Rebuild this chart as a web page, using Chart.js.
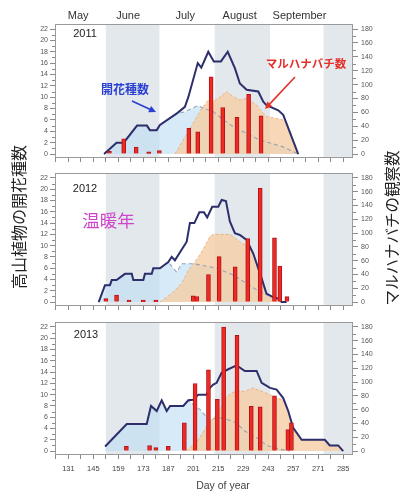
<!DOCTYPE html>
<html>
<head>
<meta charset="utf-8">
<script src="https://cdn.jsdelivr.net/npm/chart.js@4.4.1/dist/chart.umd.min.js"></script>
<style>
  html, body { margin: 0; padding: 0; background: #ffffff; }
  #wrap { position: relative; width: 400px; height: 492px; overflow: hidden; }
  #wrap canvas { position: absolute; left: 0; top: 0; }
</style>
</head>
<body>
<div id="wrap">
  <canvas id="p2011" width="400" height="492"></canvas>
  <canvas id="p2012" width="400" height="492"></canvas>
  <canvas id="p2013" width="400" height="492"></canvas>
</div>
<script>
// ---- axis labels ----
const dayTicks = [124, 131, 138, 145, 152, 159, 166, 173, 180, 187, 194, 201, 208, 215, 222, 229, 236, 243, 250, 257, 264, 271, 278, 285];
const monthNames = ['May', 'June', 'July', 'August', 'September'];
const monthLabelDays = [136.5, 164.5, 196.5, 227, 260.5];
const monthBands = [[152, 182], [213, 244], [274, 300]];
const speciesTicks = [0, 2, 4, 6, 8, 10, 12, 14, 16, 18, 20, 22];
const beeTicks = [0, 20, 40, 60, 80, 100, 120, 140, 160, 180];

// ---- 2011 ----
const totalDays2011 = [151, 158, 162, 169.5, 175, 176.7, 180.5, 182.3, 192, 196.3, 198.2, 203.5, 205.5, 209.4, 212.5, 216.5, 220.3, 224.3, 227.1, 230.9, 237.4, 240.2, 242, 248.6, 251.4, 259.8];
const totalCounts2011 = [0, 2, 2, 5, 5, 4.2, 4.2, 5.1, 7.2, 8.3, 10, 16, 15.2, 18, 16.3, 16.3, 18, 15.1, 12.4, 11.3, 11, 9.2, 8.6, 7.7, 6.9, 0];
const earlyDays2011 = [151, 158, 162, 169.5, 175, 176.7, 180.5, 182.3, 192, 196, 203.5, 207, 212, 218, 223.4, 231, 238, 251, 260];
const earlyCounts2011 = [0, 2, 2, 5, 5, 4.2, 4.2, 5.1, 7.2, 7.4, 8.5, 8, 7.5, 6, 4.8, 3.6, 2.5, 1.3, 0];
const lateDays2011 = [190.7, 200, 205, 209.4, 212, 216, 219.6, 223.4, 227, 231, 236.5, 239.3, 242, 251.4, 253, 259.8];
const lateCounts2011 = [0, 4.9, 7.7, 9.5, 9.2, 10, 11, 10.1, 9.5, 9.8, 8.6, 7.5, 6.6, 6, 5.6, 0];
const beeDays2011 = [154, 162, 169, 176, 182, 198.5, 203.5, 211, 217.5, 225.5, 232, 239];
const beeCounts2011 = [4, 22, 10, 3, 5, 37, 32, 111, 67, 53, 86, 55];

// ---- 2012 ----
const totalDays2012 = [148, 151.5, 154.3, 155.3, 158, 162.7, 166.5, 167.4, 173, 173.9, 177.7, 178.6, 182.3, 187, 188.9, 190.7, 197.3, 199.1, 201.6, 204.4, 207, 208.8, 211.6, 215, 216.9, 219.3, 221.5, 224.3, 227.1, 230.9, 234.6, 239.3, 242, 244.9, 248.6, 250.5, 253.3];
const totalCounts2012 = [0, 3, 3, 3.9, 3.9, 5, 5, 3.9, 3.9, 5, 5, 6, 6, 7.1, 8, 7.4, 10.7, 14, 14, 15.9, 15.9, 15, 16.9, 16.9, 18.1, 17.9, 14.3, 12.2, 11.9, 11, 8.6, 4.2, 1.5, 1, 0.6, 0, 0];
const earlyDays2012 = [148, 151.5, 154.3, 155.3, 158, 162.7, 166.5, 167.4, 173, 173.9, 177.7, 178.6, 182.3, 187, 191.7, 194.5, 201, 206, 214, 223.4, 238.3, 249.5, 251];
const earlyCounts2012 = [0, 3, 3, 3.9, 3.9, 5, 5, 3.9, 3.9, 5, 5, 6, 6, 7.1, 5.3, 6.8, 6.8, 6.5, 6, 4.8, 1.8, 0.3, 0];
const lateDays2012 = [182.3, 188.9, 194.5, 198.2, 201.9, 205.7, 210.3, 212.2, 221.5, 223.4, 227, 231.8, 234.6, 239.3, 242, 244.9, 248.6, 250.5];
const lateCounts2012 = [0, 1.5, 3.3, 5.6, 7.1, 8.9, 11.6, 12, 12, 11.6, 10.7, 9.8, 8.6, 4.2, 1.5, 1, 0.6, 0];
const beeDays2012 = [152, 158, 165, 173, 180, 201, 203, 209.5, 215.5, 224.5, 231.5, 238.5, 246.5, 249.5, 253.5];
const beeCounts2012 = [5, 10, 3, 3, 3, 9, 8, 40, 66, 51, 92, 165, 93, 52, 8];

// ---- 2013 ----
const totalDays2013 = [151.6, 163.7, 174.9, 177.3, 180.5, 183.3, 186.1, 188, 195.4, 198.2, 201, 203.8, 208.5, 210.3, 212.2, 214.1, 216.9, 220.6, 225.3, 229.9, 236.5, 239.3, 244, 247.7, 251.4, 254.2, 257, 261.7, 274.7, 277.5, 282.2, 285];
const totalCounts2013 = [0.8, 4.8, 4.8, 8, 7.1, 9, 7.1, 8, 8, 9, 9.1, 10, 10, 11.2, 11.8, 12.1, 13.9, 14.5, 15.2, 14.2, 14.2, 12.1, 11.2, 10.9, 9.4, 7.1, 4.1, 2, 2, 1, 1, 0];
const earlyDays2013 = [151.6, 163.7, 174.9, 177.3, 180.5, 183.3, 186.1, 188, 195.4, 198.2, 201, 205, 210, 215, 220, 225, 230, 236, 242, 250, 255];
const earlyCounts2013 = [0.8, 4.8, 4.8, 8, 7.1, 9, 7.1, 8, 8, 9, 8.2, 7.3, 5.5, 6, 5.6, 5, 3.5, 2.5, 1, 0.3, 0];
const lateDays2013 = [197, 203, 208.5, 216, 219, 222.5, 226, 230, 234.6, 239.3, 244, 247.7, 251.4, 254.2, 257, 261.7, 274.7, 277.5, 282.2, 285];
const lateCounts2013 = [0, 1.7, 4.3, 7.3, 9.4, 10.3, 10.7, 10.6, 11.2, 10.6, 10, 9.4, 9.1, 7.1, 4.1, 2, 2, 1, 1, 0];
const beeDays2013 = [163.5, 176.5, 180, 187, 196, 202, 209.5, 214.5, 218, 225.5, 233.5, 238.5, 246.5, 254, 256];
const beeCounts2013 = [7, 8, 5, 7, 41, 98, 118, 75, 180, 168, 65, 64, 80, 31, 41];

// ---- styling ----
const FONT = '"Liberation Sans", Arial, sans-serif';
const JFONT = '"Noto Sans CJK JP", sans-serif';
const X_MIN = 123.5, X_MAX = 290.5;
const Y_MIN = -0.7, Y_MAX = 22.88;
const BEE_PER_SPECIES = 180 / 22;
const BAND = '#e2e8ec';
const NAVY = '#2c2f6c';
const BLUE_TXT = '#2a3fd2';
const RED_TXT = '#e5302a';
const W = 400, H = 492;

Chart.defaults.font.family = FONT;
Chart.defaults.animation = false;

const pts = (xs, ys) => xs.map((x, i) => ({ x, y: ys[i] }));

function drawArrow(ctx, a, color) {
  const [x0, y0] = a.from, [x1, y1] = a.to;
  const ang = Math.atan2(y1 - y0, x1 - x0);
  const hl = 7, hw = 3.5;
  ctx.strokeStyle = color; ctx.fillStyle = color; ctx.lineWidth = 1.6;
  ctx.beginPath();
  ctx.moveTo(x0, y0);
  ctx.lineTo(x1 - Math.cos(ang) * hl * 0.8, y1 - Math.sin(ang) * hl * 0.8);
  ctx.stroke();
  ctx.beginPath();
  ctx.moveTo(x1, y1);
  ctx.lineTo(x1 - Math.cos(ang) * hl + Math.sin(ang) * hw, y1 - Math.sin(ang) * hl - Math.cos(ang) * hw);
  ctx.lineTo(x1 - Math.cos(ang) * hl - Math.sin(ang) * hw, y1 - Math.sin(ang) * hl + Math.cos(ang) * hw);
  ctx.closePath();
  ctx.fill();
}

function decorPlugin(texts, arrows) {
  return {
    id: 'decor',
    beforeDatasetsDraw(chart) {
      const { ctx, chartArea: a } = chart;
      const x = chart.scales.x;
      ctx.save();
      ctx.fillStyle = BAND;
      monthBands.forEach(([s, e]) => {
        const x0 = Math.max(a.left, x.getPixelForValue(s));
        const x1 = Math.min(a.right, x.getPixelForValue(e));
        if (x1 > x0) ctx.fillRect(x0, a.top, x1 - x0, a.bottom - a.top);
      });
      ctx.restore();
    },
    afterDraw(chart) {
      const { ctx, chartArea: a } = chart;
      ctx.save();
      // frame round the plot
      ctx.strokeStyle = '#9a9a9a';
      ctx.lineWidth = 1;
      ctx.strokeRect(Math.round(a.left) + 0.5, Math.round(a.top) + 0.5,
        Math.round(a.right - a.left) - 1, Math.round(a.bottom - a.top) - 1);
      // minor ticks on both value axes
      ctx.strokeStyle = '#8a8a8a';
      ctx.beginPath();
      for (let v = 1; v < 22; v += 2) {
        const y = Math.round(chart.scales.y.getPixelForValue(v)) + 0.5;
        ctx.moveTo(a.left - 3, y); ctx.lineTo(a.left, y);
      }
      for (let v = 10; v < 180; v += 20) {
        const y = Math.round(chart.scales.yR.getPixelForValue(v)) + 0.5;
        ctx.moveTo(a.right, y); ctx.lineTo(a.right + 3, y);
      }
      ctx.stroke();
      arrows.forEach(ar => drawArrow(ctx, ar, ar.color));
      texts.forEach(t => {
        ctx.save();
        ctx.translate(t.x, t.y);
        if (t.rot) ctx.rotate(t.rot);
        ctx.font = (t.weight || 'normal') + ' ' + t.size + 'px ' + (t.family || FONT);
        ctx.fillStyle = t.color;
        ctx.textAlign = 'center';
        ctx.textBaseline = 'middle';
        ctx.fillText(t.t, 0, 0);
        ctx.restore();
      });
      ctx.restore();
    }
  };
}

function makePanel(p) {
  const topH = p.months ? 24 : 0;
  const xH = p.dayLabels ? 24 : 5;
  const scales = {
    x: {
      type: 'linear', position: 'bottom', min: X_MIN, max: X_MAX, offset: false,
      afterBuildTicks: s => { s.ticks = dayTicks.map(v => ({ value: v })); },
      afterFit: s => { s.height = xH; },
      grid: { drawOnChartArea: false, drawTicks: true, tickLength: 4, color: '#8a8a8a', offset: false },
      border: { display: false },
      ticks: {
        display: p.dayLabels, autoSkip: false, maxRotation: 0, padding: 5,
        color: '#444', font: { size: 7.5 },
        callback: v => ((v - 131) % 14 === 0 ? String(v) : '')
      }
    },
    y: {
      type: 'linear', position: 'left', min: Y_MIN, max: Y_MAX,
      afterBuildTicks: s => { s.ticks = speciesTicks.map(v => ({ value: v })); },
      afterFit: s => { s.width = 55; },
      grid: { drawOnChartArea: false, drawTicks: true, tickLength: 5, color: '#8a8a8a' },
      border: { display: false },
      ticks: { padding: 2, color: '#555', font: { size: 7 }, callback: v => String(v) }
    },
    yR: {
      type: 'linear', position: 'right', min: Y_MIN * BEE_PER_SPECIES, max: Y_MAX * BEE_PER_SPECIES,
      afterBuildTicks: s => { s.ticks = beeTicks.map(v => ({ value: v })); },
      afterFit: s => { s.width = W - 353; },
      grid: { drawOnChartArea: false, drawTicks: true, tickLength: 5, color: '#8a8a8a' },
      border: { display: false },
      ticks: { padding: 3, color: '#555', font: { size: 7 }, callback: v => String(v) }
    }
  };
  if (p.months) {
    scales.xTop = {
      type: 'linear', position: 'top', min: X_MIN, max: X_MAX, offset: false,
      afterBuildTicks: s => { s.ticks = monthLabelDays.map(v => ({ value: v })); },
      afterFit: s => { s.height = topH; },
      grid: { display: false, drawTicks: false },
      border: { display: false },
      ticks: {
        autoSkip: false, maxRotation: 0, padding: 1, color: '#333', font: { size: 11 },
        callback: (v, i) => monthNames[i]
      }
    };
  }

  return new Chart(document.getElementById(p.id), {
    type: 'bar',
    data: {
      datasets: [
        {
          type: 'bar', label: 'bumblebees', data: pts(p.beeDays, p.beeCounts),
          xAxisID: 'x', yAxisID: 'yR', order: 0,
          backgroundColor: '#ee2a22', borderColor: '#b0141a', borderWidth: 1,
          barThickness: 4, grouped: false
        },
        {
          type: 'line', label: 'flowering species', data: pts(p.totalDays, p.totalCounts),
          xAxisID: 'x', yAxisID: 'y', order: 1,
          borderColor: NAVY, borderWidth: 2, pointRadius: 0, tension: 0, fill: false
        },
        {
          type: 'line', label: 'early species', data: pts(p.earlyDays, p.earlyCounts),
          xAxisID: 'x', yAxisID: 'y', order: 2,
          borderColor: 'rgba(140,156,178,0.9)', borderWidth: 1.1, borderDash: [4, 3],
          pointRadius: 0, tension: 0, fill: false
        },
        {
          type: 'line', label: 'late species', data: pts(p.lateDays, p.lateCounts),
          xAxisID: 'x', yAxisID: 'y', order: 3,
          borderColor: 'rgba(232,170,115,0.8)', borderWidth: 1, borderDash: [3, 2],
          backgroundColor: 'rgba(245,206,166,0.82)', pointRadius: 0, tension: 0, fill: 'origin'
        },
        {
          type: 'line', label: 'early area', data: pts(p.earlyDays, p.earlyCounts),
          xAxisID: 'x', yAxisID: 'y', order: 4,
          borderWidth: 0, borderColor: 'rgba(0,0,0,0)',
          backgroundColor: 'rgba(192,222,244,0.65)', pointRadius: 0, tension: 0, fill: 'origin'
        }
      ]
    },
    options: {
      responsive: false, devicePixelRatio: 1, animation: false,
      layout: { padding: { top: p.top - topH, bottom: H - p.bottom - xH, left: 0, right: 0 } },
      plugins: { legend: { display: false }, tooltip: { enabled: false }, title: { display: false } },
      scales
    },
    plugins: [decorPlugin(p.texts, p.arrows)]
  });
}

const yearFont = { size: 11, color: '#222' };

makePanel({
  id: 'p2011', top: 24, bottom: 158, months: true, dayLabels: false,
  totalDays: totalDays2011, totalCounts: totalCounts2011,
  earlyDays: earlyDays2011, earlyCounts: earlyCounts2011,
  lateDays: lateDays2011, lateCounts: lateCounts2011,
  beeDays: beeDays2011, beeCounts: beeCounts2011,
  texts: [
    { t: '2011', x: 85, y: 34, size: yearFont.size, color: yearFont.color },
    { t: '開花種数', x: 125, y: 89, size: 12, color: BLUE_TXT, family: JFONT, weight: 'bold' },
    { t: 'マルハナバチ数', x: 306, y: 63.5, size: 11.5, color: RED_TXT, family: JFONT, weight: 'bold' }
  ],
  arrows: [
    { from: [132, 101], to: [156, 112], color: BLUE_TXT },
    { from: [295, 77], to: [265, 109], color: RED_TXT }
  ]
});

makePanel({
  id: 'p2012', top: 173, bottom: 306, months: false, dayLabels: false,
  totalDays: totalDays2012, totalCounts: totalCounts2012,
  earlyDays: earlyDays2012, earlyCounts: earlyCounts2012,
  lateDays: lateDays2012, lateCounts: lateCounts2012,
  beeDays: beeDays2012, beeCounts: beeCounts2012,
  texts: [
    { t: '2012', x: 85, y: 189, size: yearFont.size, color: yearFont.color },
    { t: '温暖年', x: 108.5, y: 220, size: 17.5, color: '#cf45c9', family: JFONT }
  ],
  arrows: []
});

makePanel({
  id: 'p2013', top: 322, bottom: 455, months: false, dayLabels: true,
  totalDays: totalDays2013, totalCounts: totalCounts2013,
  earlyDays: earlyDays2013, earlyCounts: earlyCounts2013,
  lateDays: lateDays2013, lateCounts: lateCounts2013,
  beeDays: beeDays2013, beeCounts: beeCounts2013,
  texts: [
    { t: '2013', x: 86, y: 335, size: yearFont.size, color: yearFont.color },
    { t: 'Day of year', x: 223, y: 486, size: 10.5, color: '#444' },
    { t: '高山植物の開花種数', x: 19, y: 217, size: 16, color: '#222', family: JFONT, rot: -Math.PI / 2 },
    { t: 'マルハナバチの観察数', x: 392, y: 228, size: 15.5, color: '#222', family: JFONT, rot: -Math.PI / 2 }
  ],
  arrows: []
});
</script>
</body>
</html>
